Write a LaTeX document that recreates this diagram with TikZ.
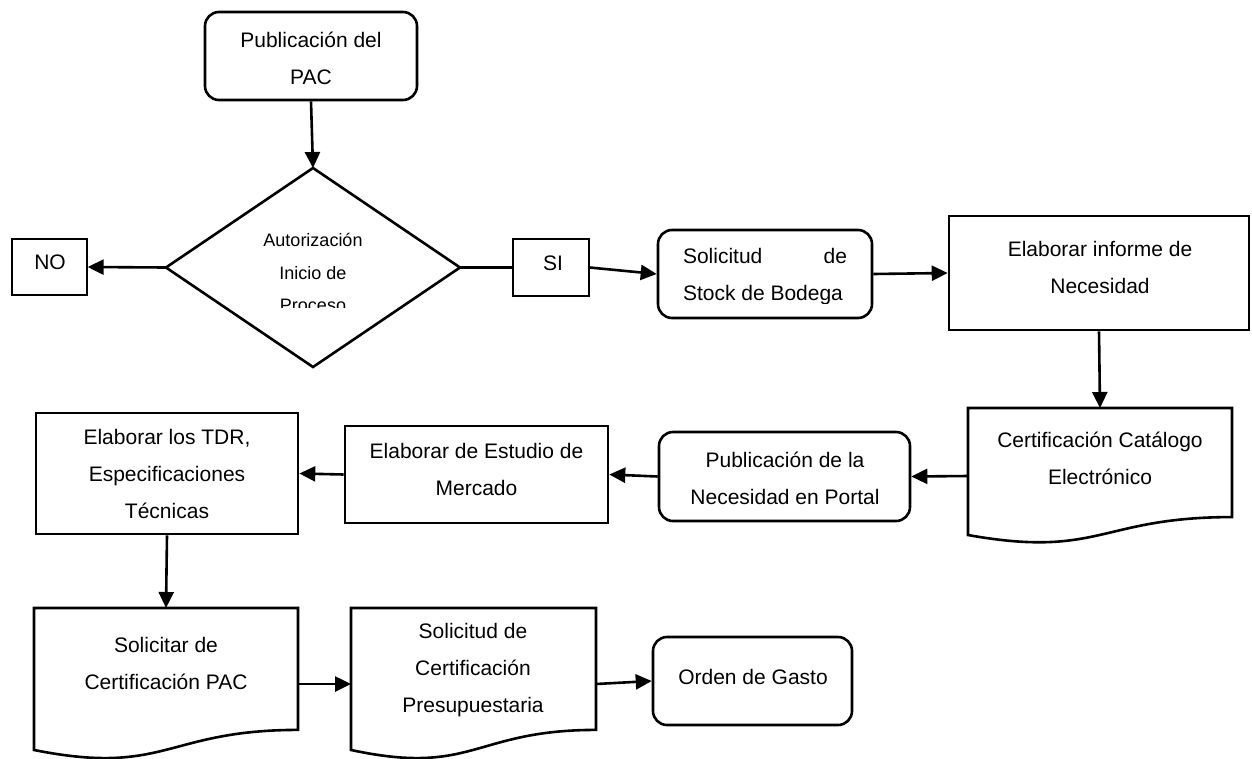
\documentclass[tikz,border=0pt]{standalone}
\usepackage{fontspec}
\setmainfont{Liberation Sans}
\usetikzlibrary{arrows.meta,calc}
\newcommand{\tst}{\rule[-0.1em]{0pt}{0.816em}}
\newcommand{\docpath}[1]{\draw[line width=2.6pt,line join=miter] (#1.north west) -- (#1.north east) -- ($(#1.north east)!0.802!(#1.south east)$) .. controls ($(#1.north)!0.802!(#1.south)$) and ($(#1.north)!1.1075!(#1.south)$) .. ($(#1.north west)!0.934!(#1.south west)$) -- cycle;}
\begin{document}
\begin{tikzpicture}[x=1pt,y=-1pt,
  shapebox/.style={draw, line width=2.6pt, inner sep=0pt},
  roundbox/.style={shapebox, rounded corners=14pt},
  thinbox/.style={draw, line width=1.3pt, inner sep=0pt},
  ghost/.style={inner sep=0pt, outer sep=0pt},
  txt/.style={inner sep=0pt, align=center, font=\fontsize{21}{37}\selectfont},
  dtxt/.style={inner sep=0pt, align=center, font=\fontsize{18}{32.3}\selectfont},
  arr/.style={line width=2.6pt, -{Triangle[length=16pt,width=15pt]}},
  link/.style={line width=2.6pt}]
\fill[white] (0,0) rectangle (1252,758);
\useasboundingbox (0,0) rectangle (1252,758);

% shapes
\node[roundbox, minimum width=212pt, minimum height=88pt] (pac) at (311,56) {};
\node[ghost, minimum width=294pt, minimum height=199pt] (dia) at (313,267.5) {};
\draw[line width=2.6pt, line join=miter] (dia.north) -- (dia.east) -- (dia.south) -- (dia.west) -- cycle;
\node[thinbox, minimum width=75pt, minimum height=56pt] (no) at (49.5,267) {};
\node[thinbox, minimum width=76pt, minimum height=57pt] (si) at (551,267.5) {};
\node[roundbox, minimum width=214pt, minimum height=88pt] (sol) at (765,274) {};
\node[shapebox, minimum width=300pt, minimum height=114pt] (ela) at (1099,273) {};
\node[ghost, minimum width=264pt, minimum height=136pt] (cert) at (1100,476) {};
\docpath{cert}
\node[roundbox, minimum width=251pt, minimum height=89pt] (pub) at (784.5,476.5) {};
\node[shapebox, minimum width=263pt, minimum height=97pt] (est) at (476.5,474.5) {};
\node[shapebox, minimum width=262pt, minimum height=121pt] (tdr) at (167,473.5) {};
\node[ghost, minimum width=264pt, minimum height=152pt] (spac) at (166,684) {};
\docpath{spac}
\node[ghost, minimum width=245pt, minimum height=152pt] (spre) at (473.5,684) {};
\docpath{spre}
\node[roundbox, minimum width=199pt, minimum height=88pt] (ord) at (752.5,681) {};

% texts
\node[txt] (pac-t) at (311,59.5) {\tst Publicación del\\\tst PAC};
\begin{scope}
\clip (166,200) rectangle (460,307);
\node[dtxt] (dia-t) at (313,273.5) {\tst Autorización\\\tst Inicio de\\\tst Proceso};
\end{scope}
\node[txt] (no-t) at (50,263) {\tst NO};
\node[txt] (si-t) at (553,264) {\tst SI};
\begin{scope}
\clip (658,200) rectangle (872,303);
\node[txt, align=left] (sol-t) at (765,277) {\makebox[164pt][s]{\tst Solicitud de}\\\tst Stock de Bodega};
\end{scope}
\node[txt] (ela-t) at (1100,268.5) {\tst Elaborar informe de\\\tst Necesidad};
\node[txt] (cert-t) at (1100,459.5) {\tst Certificación Catálogo\\\tst Electrónico};
\node[txt] (pub-t) at (785,479) {\tst Publicación de la\\\tst Necesidad en Portal};
\node[txt] (est-t) at (476.5,470.5) {\tst Elaborar de Estudio de\\\tst Mercado};
\node[txt] (tdr-t) at (167,475.3) {\tst Elaborar los TDR,\\\tst Especificaciones\\\tst Técnicas};
\node[txt] (spac-t) at (166,664.5) {\tst Solicitar de\\\tst Certificación PAC};
\node[txt] (spre-t) at (473,670) {\tst Solicitud de\\\tst Certificación\\\tst Presupuestaria};
\node[txt] (ord-t) at (753,677.5) {\tst Orden de Gasto};

% connectors
\draw[arr] (pac.south) -- (dia.north);
\draw[arr] (dia.west) -- (no.east);
\draw[link] (dia.east) -- (si.west);
\draw[arr] (si.east) -- (sol.west);
\draw[arr] (sol.east) -- (ela.west);
\draw[arr] (ela.south) -- (cert.north);
\draw[arr] (cert.west) -- (pub.east);
\draw[arr] (pub.west) -- (est.east);
\draw[arr] (est.west) -- (tdr.east);
\draw[arr] (tdr.south) -- (spac.north);
\draw[arr] (spac.east) -- (spre.west);
\draw[arr] (spre.east) -- (ord.west);
\end{tikzpicture}
\end{document}
